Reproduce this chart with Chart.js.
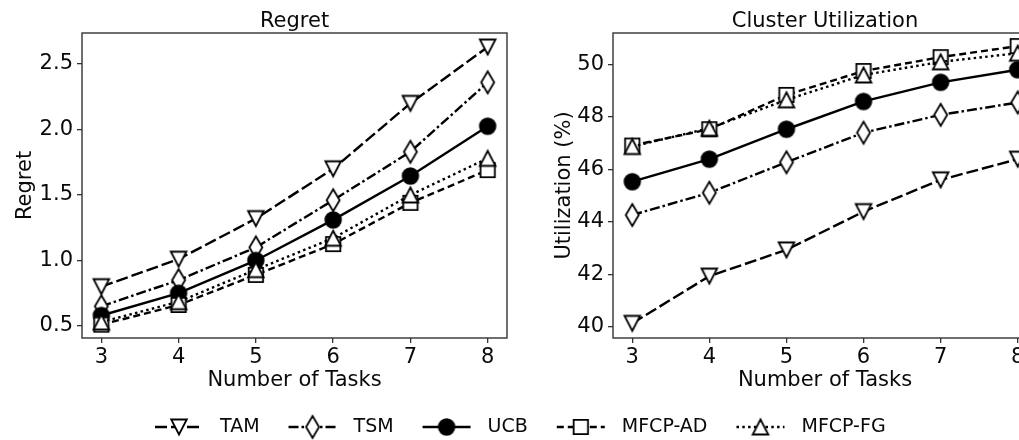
<!DOCTYPE html>
<html lang="en">
<head>
  <meta charset="UTF-8" />
  <title>Regret and Cluster Utilization</title>
  <script src="https://cdn.jsdelivr.net/npm/chart.js"></script>
  <style>
    html, body { margin: 0; padding: 0; background: #fff; overflow: hidden; }
    #wrap { position: relative; width: 1019px; height: 440px; overflow: hidden; }
    #regretBox { position: absolute; left: 0; top: 0; width: 520px; height: 400px; }
    #utilBox { position: absolute; left: 520px; top: 0; width: 540px; height: 400px; }
    #legend { position: absolute; left: 0; top: 400px; }
  </style>
</head>
<body>
  <div id="wrap">
    <div id="regretBox"><canvas id="regretChart" width="520" height="400"></canvas></div>
    <div id="utilBox"><canvas id="utilChart" width="540" height="400"></canvas></div>
    <canvas id="legend" width="1019" height="40"></canvas>
  </div>

  <script>
    // data
    const tasks = [3, 4, 5, 6, 7, 8];
    const seriesNames = ["TAM", "TSM", "UCB", "MFCP-AD", "MFCP-FG"];

    const regretTAM = [0.80, 1.01, 1.32, 1.70, 2.20, 2.63];
    const regretTSM = [0.65, 0.85, 1.10, 1.46, 1.83, 2.36];
    const regretUCB = [0.58, 0.75, 1.00, 1.31, 1.645, 2.025];
    const regretAD  = [0.51, 0.66, 0.89, 1.125, 1.44, 1.69];
    const regretFG  = [0.53, 0.685, 0.93, 1.17, 1.50, 1.78];

    const utilTAM = [40.13, 41.93, 42.93, 44.39, 45.60, 46.39];
    const utilTSM = [44.26, 45.11, 46.27, 47.40, 48.08, 48.55];
    const utilUCB = [45.53, 46.39, 47.53, 48.59, 49.32, 49.80];
    const utilAD  = [46.91, 47.53, 48.84, 49.75, 50.28, 50.70];
    const utilFG  = [46.87, 47.57, 48.65, 49.60, 50.10, 50.43];

    const regretTicks = [0.5, 1.0, 1.5, 2.0, 2.5];
    const utilTicks = [40, 42, 44, 46, 48, 50];

    const FONT = '"DejaVu Sans", sans-serif';
    const INK = "#0a0a0a";

    // line style + marker for each method (matplotlib look)
    const styles = [
      { marker: "tri_down", dash: [12, 4] },
      { marker: "thin_diamond", dash: [10, 3, 2.5, 3] },
      { marker: "circle", dash: [] },
      { marker: "square", dash: [7, 4] },
      { marker: "tri_up", dash: [2.5, 3.3] }
    ];

    function markerCanvas(kind) {
      const c = document.createElement("canvas");
      c.width = 22; c.height = kind === "thin_diamond" ? 28 : 22;
      const g = c.getContext("2d");
      const cx = c.width / 2, cy = c.height / 2;
      g.lineWidth = 1.8;
      g.lineJoin = "miter";
      g.strokeStyle = "#000";
      g.fillStyle = "#fff";
      g.beginPath();
      if (kind === "tri_down") {
        g.moveTo(cx - 7.8, cy - 7.5); g.lineTo(cx + 7.8, cy - 7.5); g.lineTo(cx, cy + 7.5);
      } else if (kind === "tri_up") {
        g.moveTo(cx, cy - 7.5); g.lineTo(cx + 7.8, cy + 7.5); g.lineTo(cx - 7.8, cy + 7.5);
      } else if (kind === "thin_diamond") {
        g.moveTo(cx, cy - 11); g.lineTo(cx + 6.5, cy); g.lineTo(cx, cy + 11); g.lineTo(cx - 6.5, cy);
      } else if (kind === "square") {
        g.rect(cx - 7.2, cy - 7.2, 14.4, 14.4);
      } else {
        g.arc(cx, cy, 7.8, 0, Math.PI * 2);
        g.fillStyle = "#000";
      }
      g.closePath();
      g.fill();
      g.stroke();
      return c;
    }

    const frameAndTitle = {
      id: "frameAndTitle",
      afterDraw(chart, args, opts) {
        const { ctx, chartArea: a } = chart;
        ctx.save();
        ctx.strokeStyle = "#333";
        ctx.lineWidth = 1.4;
        ctx.strokeRect(a.left, a.top, a.right - a.left, a.bottom - a.top);
        ctx.fillStyle = INK;
        ctx.font = "21px " + FONT;
        ctx.textAlign = "center";
        ctx.textBaseline = "alphabetic";
        ctx.fillText(opts.text, (a.left + a.right) / 2, 27);
        ctx.restore();
      }
    };

    function makeChart(id, cfg) {
      const datasets = cfg.series.map((vals, i) => ({
        label: seriesNames[i],
        data: vals.map((v, j) => ({ x: tasks[j], y: v })),
        borderColor: "#000",
        borderWidth: 2.4,
        borderDash: styles[i].dash,
        pointStyle: markerCanvas(styles[i].marker),
        pointRadius: 7,
        tension: 0,
        clip: false,
        order: seriesNames.length - i
      }));

      return new Chart(document.getElementById(id), {
        type: "line",
        data: { datasets },
        plugins: [frameAndTitle],
        options: {
          responsive: false,
          animation: false,
          events: [],
          layout: { padding: { top: 33, right: cfg.padRight, left: 0, bottom: 0 } },
          plugins: {
            legend: { display: false },
            tooltip: { enabled: false },
            frameAndTitle: { text: cfg.title }
          },
          scales: {
            x: {
              type: "linear",
              min: 2.75,
              max: 8.25,
              afterBuildTicks: (s) => { s.ticks = tasks.map((v) => ({ value: v })); },
              afterFit: (s) => { s.height = 62; },
              border: { display: false },
              grid: { drawOnChartArea: false, drawTicks: true, tickLength: 5, color: "#333", lineWidth: 1.3 },
              ticks: { color: INK, font: { family: FONT, size: 21 }, padding: 2, maxRotation: 0, callback: (v) => String(v) },
              title: { display: true, text: "Number of Tasks", color: INK, font: { family: FONT, size: 21 }, padding: { top: 0, bottom: 7 } }
            },
            y: {
              min: cfg.yMin,
              max: cfg.yMax,
              afterBuildTicks: (s) => { s.ticks = cfg.ticks.map((v) => ({ value: v })); },
              afterFit: (s) => { s.width = cfg.yWidth; },
              border: { display: false },
              grid: { drawOnChartArea: false, drawTicks: true, tickLength: 5, color: "#333", lineWidth: 1.3 },
              ticks: { color: INK, font: { family: FONT, size: 21 }, padding: 4, callback: cfg.fmt },
              title: { display: true, text: cfg.yLabel, color: INK, font: { family: FONT, size: 21 }, padding: { top: cfg.yTitlePad, bottom: 0 } }
            }
          }
        }
      });
    }

    makeChart("regretChart", {
      title: "Regret",
      yLabel: "Regret",
      series: [regretTAM, regretTSM, regretUCB, regretAD, regretFG],
      yMin: 0.408, yMax: 2.737,
      ticks: regretTicks,
      fmt: (v) => v.toFixed(1),
      yWidth: 82,
      padRight: 13,
      yTitlePad: 13
    });

    makeChart("utilChart", {
      title: "Cluster Utilization",
      yLabel: "Utilization (%)",
      series: [utilTAM, utilTSM, utilUCB, utilAD, utilFG],
      yMin: 39.57, yMax: 51.2,
      ticks: utilTicks,
      fmt: (v) => String(v),
      yWidth: 93,
      padRight: 23,
      yTitlePad: 32
    });

    // shared legend under both panels
    (function drawLegend() {
      const c = document.getElementById("legend");
      const g = c.getContext("2d");
      const cy = 27;
      g.font = "19px " + FONT;
      g.textBaseline = "middle";
      g.fillStyle = INK;
      let x = 155;
      seriesNames.forEach((name, i) => {
        g.save();
        g.strokeStyle = "#000";
        g.lineWidth = 2.4;
        g.setLineDash(styles[i].dash);
        g.beginPath();
        g.moveTo(x, cy);
        g.lineTo(x + 48, cy);
        g.stroke();
        g.restore();
        const m = markerCanvas(styles[i].marker);
        g.drawImage(m, x + 24 - m.width / 2, cy - m.height / 2);
        g.fillText(name, x + 65, cy);
        x += 65 + g.measureText(name).width + 29;
      });
    })();
  </script>
</body>
</html>
